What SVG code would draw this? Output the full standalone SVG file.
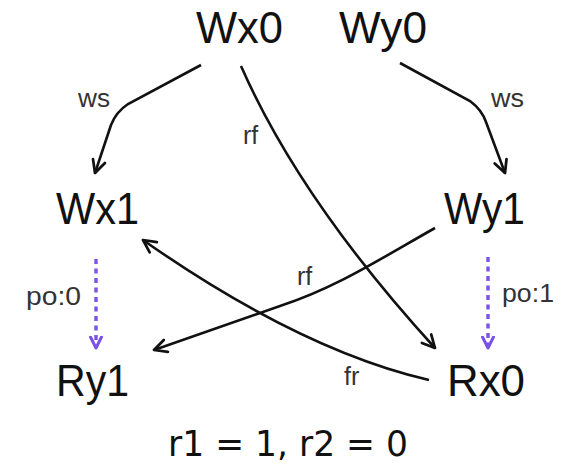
<svg xmlns="http://www.w3.org/2000/svg" width="568" height="467" viewBox="0 0 568 467">
<style>
.node{font-family:"Liberation Sans",Arial,sans-serif;font-size:45px;fill:#111}
.lbl{font-family:"Liberation Sans",Arial,sans-serif;font-size:25px;fill:#333}
.e{fill:none;stroke:#111;stroke-width:2.6}
.po{fill:none;stroke:#7b52e8;stroke-width:3.4;stroke-dasharray:5 4.5}
.math{font-family:"DejaVu Sans",sans-serif;font-size:36px;fill:#111}
</style>
<defs>
<marker id="arr" viewBox="0 0 14 14" refX="12.5" refY="7" markerWidth="16" markerHeight="16" markerUnits="userSpaceOnUse" orient="auto">
<path d="M1.5,1.5 L12.5,7 L1.5,12.5" fill="none" stroke="#111" stroke-width="2.4" stroke-linecap="round" stroke-linejoin="round"/>
</marker>
<marker id="parr" viewBox="0 0 14 14" refX="12.5" refY="7" markerWidth="14" markerHeight="14" markerUnits="userSpaceOnUse" orient="auto">
<path d="M1.5,1.5 L12.5,7 L1.5,12.5" fill="none" stroke="#7b52e8" stroke-width="3" stroke-linecap="round" stroke-linejoin="round"/>
</marker>
</defs>
<rect width="568" height="467" fill="#fff"/>
<g id="connectors">
<path class="e" d="M201,65 L128,104 Q116,112 111,125 L95,173" marker-end="url(#arr)"/>
<path class="e" d="M400,63 L470,101 Q482,110 486,122 L505,173" marker-end="url(#arr)"/>
<path class="e" d="M241,66 Q300,200 435,348" marker-end="url(#arr)"/>
<path class="e" d="M435,228 C375,262 335,288 280,306 L154,350" marker-end="url(#arr)"/>
<path class="e" d="M429,380 Q300,350 143,240" marker-end="url(#arr)"/>
<path class="po" d="M96,259 L96,348" marker-end="url(#parr)"/>
<path class="po" d="M488,257 L488,348" marker-end="url(#parr)"/>
<text class="lbl" x="78" y="107" textLength="32" lengthAdjust="spacingAndGlyphs">ws</text>
<text class="lbl" x="491" y="107" textLength="33" lengthAdjust="spacingAndGlyphs">ws</text>
<text class="lbl" x="243" y="144">rf</text>
<text class="lbl" x="297" y="285">rf</text>
<text class="lbl" x="344" y="385">fr</text>
<text class="lbl" x="26" y="305" textLength="55" lengthAdjust="spacingAndGlyphs">po:0</text>
<text class="lbl" x="502" y="302" textLength="52" lengthAdjust="spacingAndGlyphs">po:1</text>
</g>
<g id="Wx0"><text class="node" x="196" y="43" textLength="87" lengthAdjust="spacingAndGlyphs">Wx0</text></g>
<g id="Wy0"><text class="node" x="339" y="43" textLength="88" lengthAdjust="spacingAndGlyphs">Wy0</text></g>
<g id="Wx1"><text class="node" x="56" y="224" textLength="83" lengthAdjust="spacingAndGlyphs">Wx1</text></g>
<g id="Wy1"><text class="node" x="444" y="224" textLength="81" lengthAdjust="spacingAndGlyphs">Wy1</text></g>
<g id="Ry1"><text class="node" x="56" y="396" textLength="73" lengthAdjust="spacingAndGlyphs">Ry1</text></g>
<g id="Rx0"><text class="node" x="447" y="396" textLength="78" lengthAdjust="spacingAndGlyphs">Rx0</text></g>
<text class="math" x="168" y="456" textLength="240" lengthAdjust="spacingAndGlyphs">r1 = 1, r2 = 0</text>
</svg>
